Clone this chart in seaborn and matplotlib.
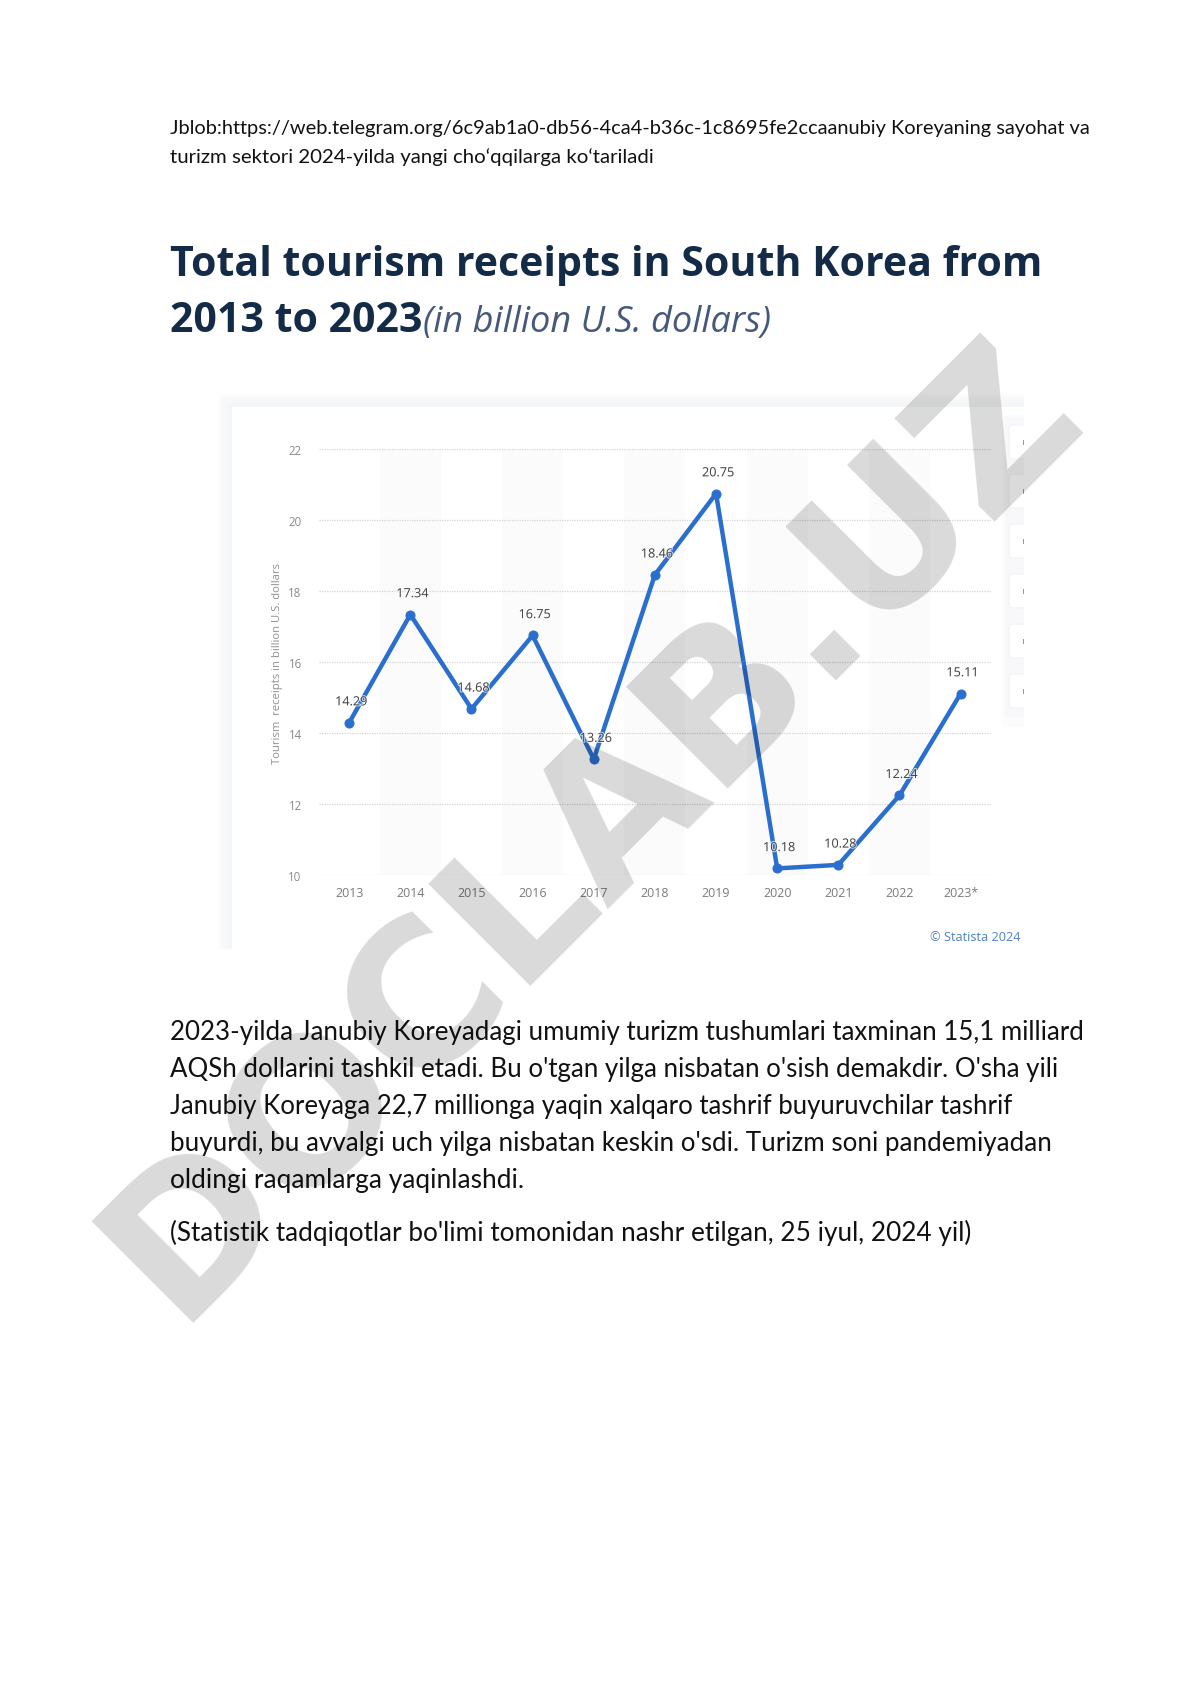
import matplotlib
matplotlib.use("Agg")
import matplotlib.pyplot as plt
import matplotlib.patheffects as pe
from matplotlib.patches import Rectangle, FancyBboxPatch
import pandas as pd
import seaborn as sns

years = ["2013", "2014", "2015", "2016", "2017", "2018", "2019", "2020", "2021", "2022", "2023*"]
receipts = [14.29, 17.34, 14.68, 16.75, 13.26, 18.46, 20.75, 10.18, 10.28, 12.24, 15.11]
y_ticks = [10, 12, 14, 16, 18, 20, 22]

header_lines = ["Jblob:https://web.telegram.org/6c9ab1a0-db56-4ca4-b36c-1c8695fe2ccaanubiy Koreyaning sayohat va",
                "turizm sektori 2024-yilda yangi cho‘qqilarga ko‘tariladi"]
title_lines = ["Total tourism receipts in South Korea from", "2013 to 2023"]
subtitle = "(in billion U.S. dollars)"
body_lines = ["2023-yilda Janubiy Koreyadagi umumiy turizm tushumlari taxminan 15,1 milliard",
              "AQSh dollarini tashkil etadi. Bu o'tgan yilga nisbatan o'sish demakdir. O'sha yili",
              "Janubiy Koreyaga 22,7 millionga yaqin xalqaro tashrif buyuruvchilar tashrif",
              "buyurdi, bu avvalgi uch yilga nisbatan keskin o'sdi. Turizm soni pandemiyadan",
              "oldingi raqamlarga yaqinlashdi."]
source_line = "(Statistik tadqiqotlar bo'limi tomonidan nashr etilgan, 25 iyul, 2024 yil)"

W, H = 1190, 1683
sns.set_theme(style="white")
plt.rcParams["font.family"] = ["Open Sans", "DejaVu Sans"]

fig = plt.figure(figsize=(W / 100, H / 100), dpi=100, facecolor="white")

# page layer in pixel coordinates
page = fig.add_axes([0, 0, 1, 1], zorder=0)
page.set_xlim(0, W)
page.set_ylim(H, 0)
page.axis("off")


def fitted_size(text, width, **kw):
    t = page.text(0, 0, text, fontsize=20, **kw)
    w = t.get_window_extent(fig.canvas.get_renderer()).width
    t.remove()
    return 20 * width / w


# card shadow, card and side buttons
for i in range(7):
    page.add_patch(Rectangle((218 + 2 * i, 394 + 2 * i), 1024 - 218 - 2 * i, 950 - 394 - 2 * i,
                             fc="#e4e6e8", ec="none", alpha=0.05))
page.add_patch(Rectangle((232, 408), 1024 - 232, 950 - 408, fc="white", ec="none"))
page.add_patch(Rectangle((1002, 416), 22, 312, fc="#fcfcfd", ec="none"))
page.add_patch(Rectangle((1005, 418), 19, 300, fc="#f8f8fa", ec="none"))
for top in [423, 472, 522, 572, 622, 672]:
    page.add_patch(FancyBboxPatch((1009, top + 3), 20, 34, boxstyle="round,pad=0,rounding_size=4",
                                  fc="white", ec="#f4f4f6", lw=1))
    page.add_patch(Rectangle((1022.5, top + 18), 1.5, 5, fc="#999999", ec="none"))
page.add_patch(Rectangle((1024, 400), 30, 340, fc="white", ec="none"))

# page text
body_font = ["Lato", "DejaVu Sans"]
header_widths = [921, 484]
for line, y, w in zip(header_lines, [134, 163], header_widths):
    page.text(170, y, line, fontsize=fitted_size(line, w, family=body_font), family=body_font,
              color="#111111", va="baseline")

fs = fitted_size(title_lines[0], 871, family=["Open Sans", "DejaVu Sans"], fontweight="bold")
for line, y in zip(title_lines, [276, 332]):
    page.text(170, y, line, fontsize=fs, fontweight="bold", color="#132b47", va="baseline")

fs = fitted_size(subtitle, 348, style="italic")
page.text(423, 332, subtitle, fontsize=fs, style="italic", color="#46597a", va="baseline")

body_widths = [912, 889, 844, 881, 353]
for line, y, w in zip(body_lines, [1040, 1077, 1114, 1151, 1188], body_widths):
    page.text(170, y, line, fontsize=fitted_size(line, w, family=body_font), family=body_font,
              color="#111111", va="baseline")
page.text(170, 1241, source_line, fontsize=fitted_size(source_line, 801, family=body_font),
          family=body_font, color="#111111", va="baseline")

# chart
left, right, top, bottom = 319, 991, 450.3, 875.8
ax = fig.add_axes([left / W, 1 - bottom / H, (right - left) / W, (bottom - top) / H], zorder=1)
ax.patch.set_alpha(0)
df = pd.DataFrame({"year": years, "receipts": receipts})
blue = "#2b6fce"
sns.lineplot(data=df, x="year", y="receipts", sort=False, color=blue, linewidth=3.2,
             marker="o", markersize=6.5, markeredgecolor=blue, errorbar=None, ax=ax, zorder=3)
ax.set_xlim(-0.494, len(years) - 1 + 0.497)
ax.set_ylim(10, 22)
ax.set_yticks(y_ticks)
for i in range(1, len(years), 2):
    ax.axvspan(i - 0.5, i + 0.5, color="#fbfbfb", lw=0, zorder=0)
ax.grid(axis="y", color="#d4d4d4", lw=0.9, ls=(0, (1, 1)), zorder=1)
ax.set_axisbelow(True)
sns.despine(ax=ax, left=True, bottom=True, right=True, top=True)
ax.tick_params(axis="x", length=0, pad=8, labelsize=8.9, labelcolor="#7a7a7a")
ax.tick_params(axis="y", length=0, pad=12.5, labelsize=8.3, labelcolor="#8a8a8a")
ax.set_xlabel("")
ax.set_ylabel("Tourism  receipts in billion U.S. dollars", fontsize=8.1, color="#909090")
ax.yaxis.set_label_coords(-0.054, 0.498)
for i, v in enumerate(receipts):
    ax.annotate(f"{v:.2f}", (i, v), xytext=(1.5, 15), textcoords="offset points", ha="center",
                va="center", fontsize=9.1, color="#454545", zorder=5,
                path_effects=[pe.withStroke(linewidth=1.5, foreground="white", alpha=0.7)])

page.text(1020, 938, "© Statista 2024", ha="right", va="center", fontsize=9.2, color="#4f82c6")

# watermark
fig.text(176 / W, 1 - 1323 / H, "DOCLAB.UZ", fontsize=142.5, fontweight="bold", family="DejaVu Sans",
         color="black", alpha=0.15, rotation=45, rotation_mode="anchor", ha="left", va="baseline",
         zorder=10)

fig.savefig("out.png", dpi=100, facecolor="white")
